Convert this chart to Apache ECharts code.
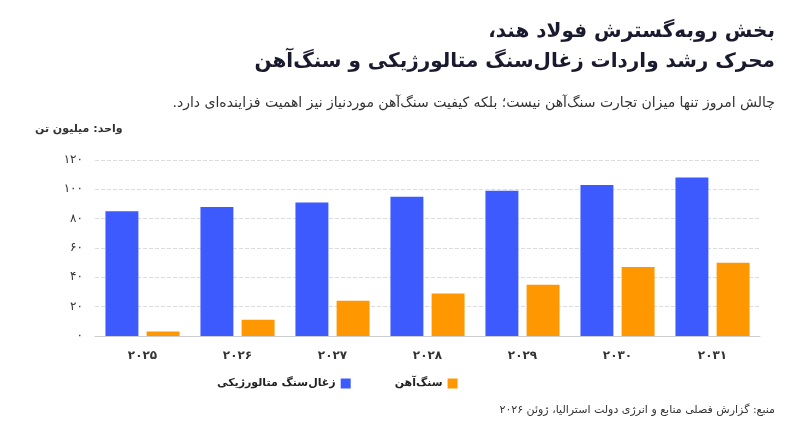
<!DOCTYPE html><html><head><meta charset="utf-8"><script src="https://cdn.jsdelivr.net/npm/echarts@6/dist/echarts.min.js"></script><style>body{margin:0}#c{width:800px;height:448px}</style></head><body><div id="c"></div><script>
const years=['2025','2026','2027','2028','2029','2030','2031'];
const coal=[85,88,91,95,99,103,108];
const ore=[3,11,24,29,35,47,50];
const yTicks=[0,20,40,60,80,100,120];
const fa=s=>String(s).replace(/\d/g,d=>'۰۱۲۳۴۵۶۷۸۹'[d]);
const rtl=s=>'\u202B'+s+'\u202C';
const F='DejaVu Sans';
const c=echarts.init(document.getElementById('c'));
c.setOption({
 textStyle:{fontFamily:F},
 grid:{left:95,right:40,top:160,bottom:112},
 xAxis:{type:'category',data:years,axisTick:{show:false},axisLine:{lineStyle:{color:'#ccc'}},axisLabel:{formatter:fa,color:'#333',fontWeight:'bold',fontSize:12,margin:14}},
 yAxis:{type:'value',min:0,max:120,interval:20,axisLabel:{formatter:fa,color:'#333',fontSize:12,margin:12},splitLine:{lineStyle:{type:'dashed',color:'#ddd'}}},
 legend:{left:212,top:373,align:'right',itemWidth:10,itemHeight:10,itemGap:44,icon:'rect',textStyle:{fontFamily:F,fontSize:11,fontWeight:'bold',color:'#222'}},
 series:[
  {name:'زغال‌سنگ متالورژیکی',type:'bar',data:coal,itemStyle:{color:'#3d5afe'},barGap:'25%',barCategoryGap:'22%'},
  {name:'سنگ‌آهن',type:'bar',data:ore,itemStyle:{color:'#ff9800'}}
 ],
 graphic:[
  {type:'text',right:25,top:22,style:{text:rtl('بخش روبه‌گسترش فولاد هند،'),font:'bold 20px '+F,fill:'#1a1a2e'}},
  {type:'text',right:25,top:52,style:{text:rtl('محرک رشد واردات زغال‌سنگ متالورژیکی و سنگ‌آهن'),font:'bold 20px '+F,fill:'#1a1a2e'}},
  {type:'text',right:25,top:96,style:{text:rtl('چالش امروز تنها میزان تجارت سنگ‌آهن نیست؛ بلکه کیفیت سنگ‌آهن موردنیاز نیز اهمیت فزاینده‌ای دارد.'),font:'14px '+F,fill:'#333'}},
  {type:'text',left:35,top:124,style:{text:rtl('واحد: میلیون تن'),font:'bold 11px '+F,fill:'#333'}},
  {type:'text',right:25,top:405,style:{text:rtl('منبع: گزارش فصلی منابع و انرژی دولت استرالیا، ژوئن ۲۰۲۶'),font:'11px '+F,fill:'#333'}}
 ]
});
</script></body></html>
